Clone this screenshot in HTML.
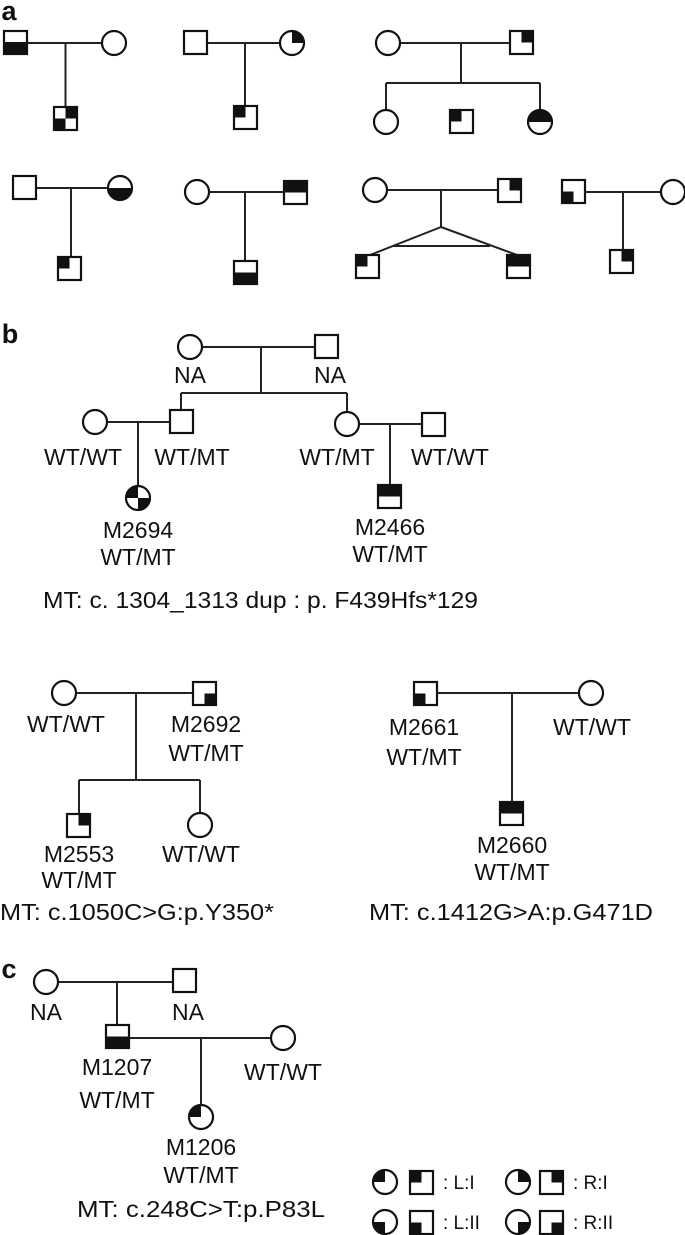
<!DOCTYPE html>
<html><head><meta charset="utf-8"><style>
html,body{margin:0;padding:0;background:#fff}
svg{display:block}
text{font-family:"Liberation Sans",sans-serif;fill:#111}
</style></head><body>
<svg width="685" height="1235" viewBox="0 0 685 1235" xmlns="http://www.w3.org/2000/svg">
<g stroke="#222" stroke-width="2" fill="none">
<!-- panel a row1 -->
<path d="M27 43H102 M65.5 43V108"/>
<path d="M207 43H280 M245 43V106"/>
<path d="M400 43H510 M461 43V83 M386 83H540 M386 83V110 M540 83V110"/>
<!-- row2 -->
<path d="M37 188H108 M71 188V257"/>
<path d="M209 192H284 M245 192V261"/>
<path d="M387 190H498 M441 190V227 L370 255 M441 227 L517 255 M393 246H490"/>
<path d="M585 192H661 M623 192V250"/>
<!-- panel b top -->
<path d="M202 347H315 M261 347V393 M181 393H347 M181 393V410 M347 393V412"/>
<path d="M107 422H170 M138 422V486"/>
<path d="M359 424H422 M390 424V485"/>
<!-- b lower left -->
<path d="M76 693H193 M136 693V780 M79 780H200 M79 780V814 M200 780V813"/>
<!-- b lower right -->
<path d="M438 693H579 M512 693V802"/>
<!-- c -->
<path d="M58 982H173 M117 982V1025 M129 1038H271 M201 1038V1105"/>
</g>

<g stroke="#111" stroke-width="2.2" fill="#fff">
<!-- a row1 -->
<rect x="4" y="31" width="23" height="23"/>
<circle cx="114" cy="43" r="12"/>
<rect x="54" y="107" width="23" height="23"/>
<rect x="184" y="31" width="23" height="23"/>
<circle cx="292" cy="43" r="12"/>
<rect x="234" y="106" width="23" height="23"/>
<circle cx="388" cy="43" r="12"/>
<rect x="510" y="31" width="23" height="23"/>
<circle cx="386" cy="122" r="12"/>
<rect x="450" y="110" width="23" height="23"/>
<circle cx="540" cy="122" r="12"/>
<!-- a row2 -->
<rect x="13" y="176" width="23" height="23"/>
<circle cx="120" cy="188" r="12"/>
<rect x="58" y="257" width="23" height="23"/>
<circle cx="197" cy="192" r="12"/>
<rect x="284" y="181" width="23" height="23"/>
<rect x="234" y="261" width="23" height="23"/>
<circle cx="375" cy="190" r="12"/>
<rect x="498" y="179" width="23" height="23"/>
<rect x="356" y="255" width="23" height="23"/>
<rect x="507" y="255" width="23" height="23"/>
<rect x="562" y="180" width="23" height="23"/>
<circle cx="673" cy="192" r="12"/>
<rect x="610" y="250" width="23" height="23"/>
<!-- b top -->
<circle cx="190" cy="347" r="12"/>
<rect x="315" y="335" width="23" height="23"/>
<rect x="170" y="410" width="23" height="23"/>
<circle cx="95" cy="422" r="12"/>
<circle cx="347" cy="424" r="12"/>
<rect x="422" y="413" width="23" height="23"/>
<circle cx="138" cy="498" r="12"/>
<rect x="378" y="485" width="23" height="23"/>
<!-- b lower -->
<circle cx="64" cy="693" r="12"/>
<rect x="193" y="682" width="23" height="23"/>
<rect x="67" y="814" width="23" height="23"/>
<circle cx="200" cy="825" r="12"/>
<rect x="414" y="682" width="23" height="23"/>
<circle cx="591" cy="693" r="12"/>
<rect x="500" y="802" width="23" height="23"/>
<!-- c -->
<circle cx="46" cy="982" r="12"/>
<rect x="173" y="969" width="23" height="23"/>
<rect x="106" y="1025" width="23" height="23"/>
<circle cx="283" cy="1038" r="12"/>
<circle cx="201" cy="1117" r="12"/>
<!-- legend -->
<circle cx="385" cy="1182" r="12"/>
<rect x="410" y="1171" width="23" height="23"/>
<circle cx="518" cy="1182" r="12"/>
<rect x="540" y="1171" width="23" height="23"/>
<circle cx="385" cy="1222" r="12"/>
<rect x="410" y="1211" width="23" height="23"/>
<circle cx="518" cy="1222" r="12"/>
<rect x="540" y="1211" width="23" height="23"/>
</g>

<g fill="#111" stroke="none">
<!-- fills: squares -->
<rect x="4" y="42" width="23" height="12"/>
<rect x="65.5" y="107" width="11.5" height="11.5"/><rect x="54" y="118.5" width="11.5" height="11.5"/>
<rect x="234" y="106" width="11.5" height="11.5"/>
<rect x="521.5" y="31" width="11.5" height="11.5"/>
<rect x="450" y="110" width="11.5" height="11.5"/>
<rect x="58" y="257" width="11.5" height="11.5"/>
<rect x="284" y="181" width="23" height="11.5"/>
<rect x="234" y="272.5" width="23" height="11.5"/>
<rect x="509.5" y="179" width="11.5" height="11.5"/>
<rect x="356" y="255" width="11.5" height="11.5"/>
<rect x="507" y="255" width="23" height="11.5"/>
<rect x="562" y="191.5" width="11.5" height="11.5"/>
<rect x="621.5" y="250" width="11.5" height="11.5"/>
<rect x="378" y="485" width="23" height="11.5"/>
<rect x="204.5" y="693.5" width="11.5" height="11.5"/>
<rect x="78.5" y="814" width="11.5" height="11.5"/>
<rect x="414" y="693.5" width="11.5" height="11.5"/>
<rect x="500" y="802" width="23" height="11.5"/>
<rect x="106" y="1036.5" width="23" height="11.5"/>
<rect x="410" y="1171" width="11.5" height="11.5"/>
<rect x="551.5" y="1171" width="11.5" height="11.5"/>
<rect x="410" y="1222.5" width="11.5" height="11.5"/>
<rect x="551.5" y="1222.5" width="11.5" height="11.5"/>
<!-- fills: circles -->
<path d="M292 43 V31 A12 12 0 0 1 304 43 Z"/>
<path d="M528 122 A12 12 0 0 1 552 122 Z"/>
<path d="M132 188 A12 12 0 0 1 108 188 Z"/>
<path d="M138 498 H126 A12 12 0 0 1 138 486 Z"/>
<path d="M138 498 H150 A12 12 0 0 1 138 510 Z"/>
<path d="M201 1117 H189 A12 12 0 0 1 201 1105 Z"/>
<path d="M385 1182 H373 A12 12 0 0 1 385 1170 Z"/>
<path d="M518 1182 V1170 A12 12 0 0 1 530 1182 Z"/>
<path d="M385 1222 V1234 A12 12 0 0 1 373 1222 Z"/>
<path d="M518 1222 H530 A12 12 0 0 1 518 1234 Z"/>
</g>

<g font-size="23" text-anchor="middle">
<text x="9" y="20" font-size="27" font-weight="bold">a</text>
<text x="10" y="343" font-size="27" font-weight="bold">b</text>
<text x="9" y="978" font-size="27" font-weight="bold">c</text>

<text x="190" y="383">NA</text>
<text x="330" y="383">NA</text>
<text x="83" y="465">WT/WT</text>
<text x="192" y="465">WT/MT</text>
<text x="337" y="465">WT/MT</text>
<text x="450" y="465">WT/WT</text>
<text x="138" y="538">M2694</text>
<text x="138" y="565">WT/MT</text>
<text x="390" y="535">M2466</text>
<text x="390" y="562">WT/MT</text>
<text x="43" y="608" text-anchor="start" textLength="435" lengthAdjust="spacingAndGlyphs">MT: c. 1304_1313 dup : p. F439Hfs*129</text>

<text x="66" y="732">WT/WT</text>
<text x="206" y="732">M2692</text>
<text x="206" y="761">WT/MT</text>
<text x="79" y="862">M2553</text>
<text x="79" y="888">WT/MT</text>
<text x="201" y="862">WT/WT</text>
<text x="0" y="920" text-anchor="start" textLength="274" lengthAdjust="spacingAndGlyphs">MT: c.1050C&gt;G:p.Y350*</text>

<text x="424" y="735">M2661</text>
<text x="424" y="765">WT/MT</text>
<text x="592" y="735">WT/WT</text>
<text x="512" y="853">M2660</text>
<text x="512" y="880">WT/MT</text>
<text x="369" y="920" text-anchor="start" textLength="284" lengthAdjust="spacingAndGlyphs">MT: c.1412G&gt;A:p.G471D</text>

<text x="46" y="1020">NA</text>
<text x="188" y="1020">NA</text>
<text x="117" y="1075">M1207</text>
<text x="117" y="1108">WT/MT</text>
<text x="283" y="1080">WT/WT</text>
<text x="201" y="1155">M1206</text>
<text x="201" y="1183">WT/MT</text>
<text x="77" y="1217" text-anchor="start" textLength="248" lengthAdjust="spacingAndGlyphs">MT: c.248C&gt;T:p.P83L</text>
</g>
<g font-size="19">
<text x="443" y="1189">: L:I</text>
<text x="573" y="1189">: R:I</text>
<text x="443" y="1229">: L:II</text>
<text x="573" y="1229">: R:II</text>
</g>
</svg>
</body></html>
